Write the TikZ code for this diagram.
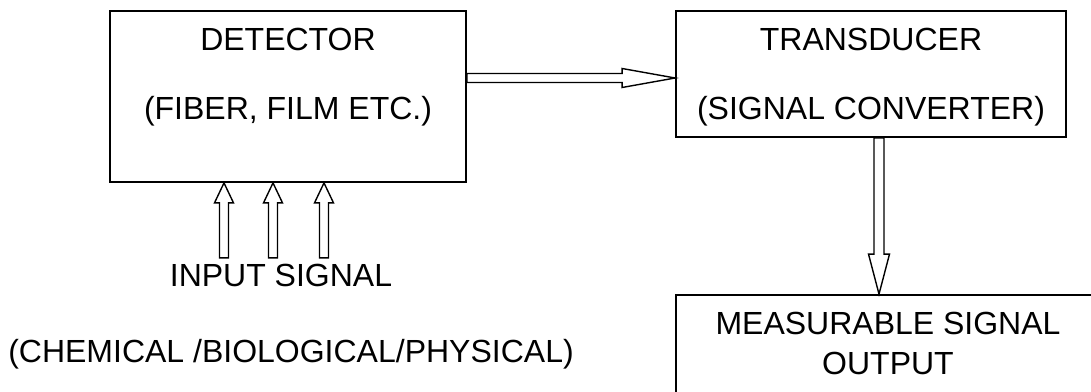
\documentclass[tikz,border=0pt]{standalone}
\usepackage{fontspec}
\setmainfont{Liberation Sans}
\usetikzlibrary{positioning, calc}

\tikzset{
  block/.style={draw, line width=1.8pt, inner sep=0pt},
  lbl/.style={inner sep=0pt, anchor=base, font=\fontsize{32}{38}\selectfont},
  fat/.style={draw, line width=1.4pt, fill=white, line join=miter},
}
% hollow block arrow: tail, tip, shaft half width, head half width, head length
\newcommand{\fatarrow}[5]{%
  \path ($(#2)!#5!(#1)$) coordinate (fa-base);
  \draw[fat] ($(#1)!#3!90:(#2)$) -- ($(fa-base)!#3!90:(#2)$) -- ($(fa-base)!#4!90:(#2)$)
    -- (#2) -- ($(fa-base)!#4!-90:(#2)$) -- ($(fa-base)!#3!-90:(#2)$) -- ($(#1)!#3!-90:(#2)$) -- cycle;
}

\begin{document}
\begin{tikzpicture}[x=1pt, y=1pt]
  \useasboundingbox (0,0) rectangle (1091,391);

  \node[block, minimum width=356pt, minimum height=171pt] (detector) at (288,294.5) {};
  \node[block, minimum width=390pt, minimum height=126pt] (transducer) at (871,317) {};
  \node[block, minimum width=424pt, minimum height=105pt] (output) at (888,43.5) {};

  \node[lbl] (detname) at ($(detector.north)+(0,-40.7)$) {DETECTOR};
  \node[lbl, below=68.5pt of detname.base, anchor=base] (detnote) {(FIBER, FILM ETC.)};
  \node[lbl] (transname) at ($(transducer.north)+(0,-40.7)$) {TRANSDUCER};
  \node[lbl, below=68.5pt of transname.base, anchor=base] (transnote) {(SIGNAL CONVERTER)};
  \node[lbl] (outname) at ($(output.north)+(0,-40)$) {MEASURABLE SIGNAL};
  \node[lbl, below=40pt of outname.base, anchor=base] (outnote) {OUTPUT};

  \node[lbl] (insig) at ($(detector.south)+(-7,-104)$) {INPUT SIGNAL};
  \node[lbl, below=76pt of insig.base, anchor=base, xshift=10pt] (inkind) {(CHEMICAL /BIOLOGICAL/PHYSICAL)};

  % detector -> transducer
  \coordinate (hin) at ($(transducer.west)+(0,-4)$);
  \coordinate (hout) at (detector.east |- hin);
  \fatarrow{hout}{hin}{4.5pt}{9.5pt}{53pt}

  % transducer -> output
  \coordinate (vtop) at ($(transducer.south)+(8,0)$);
  \coordinate (vbot) at (output.north -| vtop);
  \fatarrow{vtop}{vbot}{5pt}{10.5pt}{40pt}

  % input signals
  \foreach \dx [count=\i] in {-64,-15,36} {
    \coordinate (in\i) at ($(detector.south)+(\dx,0)$);
    \coordinate (src\i) at ($(in\i)+(0,-75)$);
    \fatarrow{src\i}{in\i}{4.5pt}{9.5pt}{20pt}
  }
\end{tikzpicture}
\end{document}
